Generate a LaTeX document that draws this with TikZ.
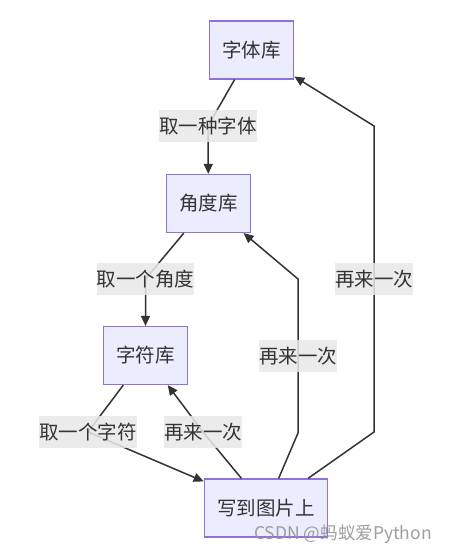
\documentclass[tikz,border=0pt]{standalone}
\usepackage{fontspec}
\usepackage{tikz}
\usetikzlibrary{arrows.meta,positioning,calc}
\newfontfamily\cjk{Noto Sans CJK SC}
\definecolor{FlowFill}{HTML}{ECECFF}
\definecolor{FlowEdge}{HTML}{9370DB}
\definecolor{FlowInk}{HTML}{333333}
\definecolor{FlowLabel}{HTML}{E8E8E8}

\begin{document}
\begin{tikzpicture}[
  x=1pt,y=-1pt,
  box/.style={draw=FlowEdge,fill=FlowFill,line width=1.2pt,text=FlowInk,inner xsep=13pt,minimum height=58pt,font=\cjk\fontsize{19.5}{22}\selectfont},
  lbl/.style={fill=FlowLabel,fill opacity=0.85,text opacity=1,text=FlowInk,inner xsep=0pt,inner ysep=0pt,minimum height=32pt,font=\cjk\fontsize{19.5}{22}\selectfont},
  arr/.style={-{Triangle[length=10pt,width=9pt]},line width=1.5pt,FlowInk},
]
\useasboundingbox (0,0) rectangle (453,553);
\node[box] (ziti) at (251.5,50) {字体库};
\node[box] (jiaodu) at (208.5,203.5) {角度库};
\node[box] (zifu) at (145.5,355.5) {字符库};
\node[box] (xie) at (266,508) {写到图片上};
% bends of the return edges
\coordinate (m1) at (298,433);
\coordinate (m2) at (298,279);
\coordinate (r1) at (374,432);
\coordinate (r2) at (374,126);
\draw[arr] (ziti) -- (208,126) node[lbl]{取一种字体} -- (jiaodu);
\draw[arr] (jiaodu) -- (145.5,279) node[lbl]{取一个角度} -- (zifu);
\draw[arr] (zifu) -- (88,432) node[lbl]{取一个字符} -- (xie);
\draw[arr] (xie) -- (203,432) node[lbl]{再来一次} -- (zifu);
\draw[arr] (xie) -- (m1) -- node[lbl]{再来一次} (m2) -- (jiaodu);
\draw[arr] (xie) -- (r1) -- node[lbl]{再来一次} (r2) -- (ziti);
\node[text=gray!85,opacity=0.9,font=\cjk\fontsize{17.5}{20}\selectfont] (mark) at (343,534) {CSDN @蚂蚁爱Python};
\end{tikzpicture}
\end{document}
